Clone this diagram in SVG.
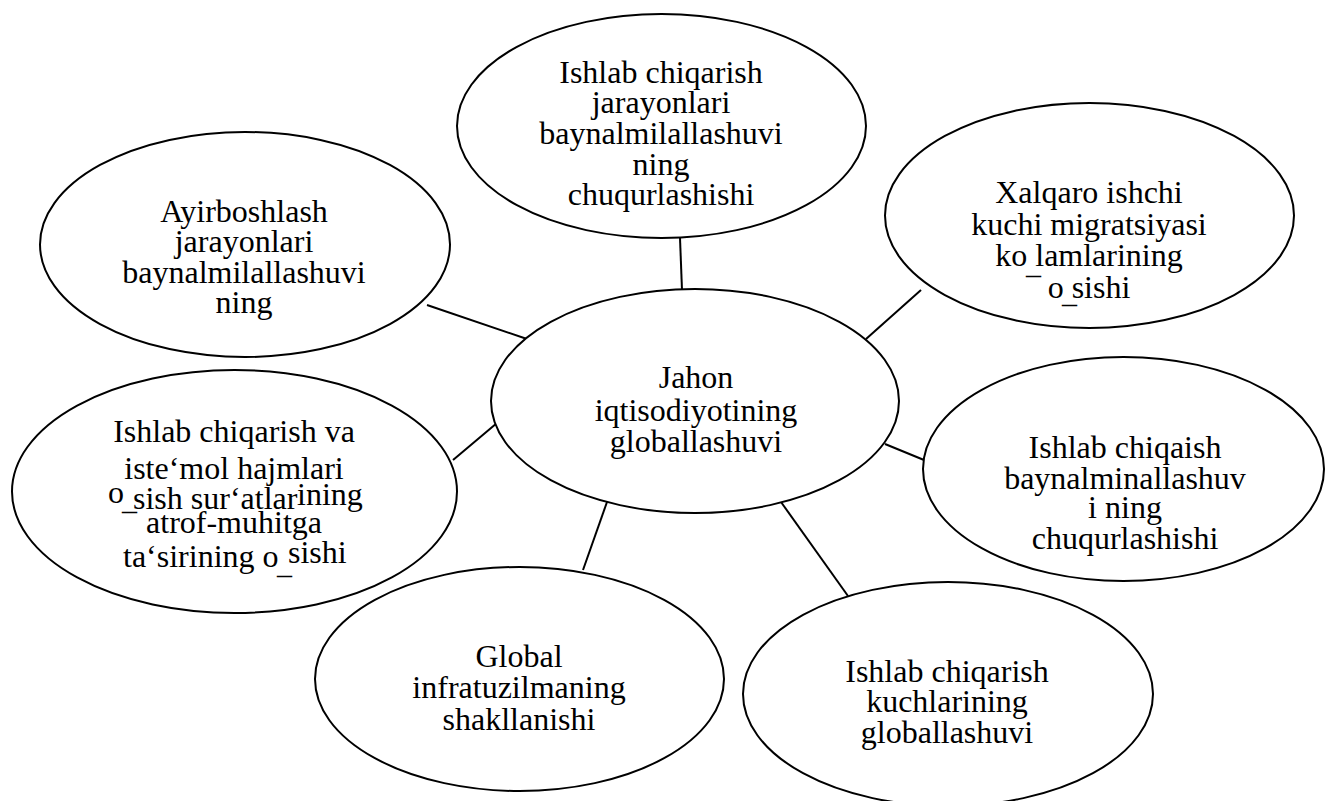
<svg xmlns="http://www.w3.org/2000/svg" width="1325" height="801" viewBox="0 0 1325 801">
<style>
.n{fill:#fff;stroke:#000;stroke-width:2}
.c line{stroke:#000;stroke-width:2}
text{font-family:"Liberation Serif","Times New Roman",serif;font-size:32px;fill:#000;text-anchor:middle}
.s{text-anchor:start}
.u{font-size:30px;text-anchor:start}
</style>
<rect width="1325" height="801" fill="#fff"/>
<g id="connectors" class="c">
<line x1="680" y1="238" x2="682" y2="290"/>
<line x1="427" y1="305" x2="527" y2="339"/>
<line x1="921" y1="290" x2="866" y2="339"/>
<line x1="453" y1="460" x2="497" y2="423"/>
<line x1="885" y1="444" x2="924" y2="460"/>
<line x1="607" y1="502" x2="583" y2="570"/>
<line x1="781" y1="502" x2="848" y2="596"/>
</g>
<g id="n-top">
<ellipse class="n" cx="661.5" cy="126" rx="204.5" ry="112"/>
<text><tspan x="661" y="83">Ishlab chiqarish</tspan><tspan x="661" y="113">jarayonlari</tspan><tspan x="661" y="144">baynalmilallashuvi</tspan><tspan x="661" y="175">ning</tspan><tspan x="661" y="205">chuqurlashishi</tspan></text>
</g>
<g id="n-ayirboshlash">
<ellipse class="n" cx="245" cy="244.5" rx="205" ry="112.5"/>
<text><tspan x="244" y="222">Ayirboshlash</tspan><tspan x="244" y="252">jarayonlari</tspan><tspan x="244" y="283">baynalmilallashuvi</tspan><tspan x="244" y="313">ning</tspan></text>
</g>
<g id="n-xalqaro">
<ellipse class="n" cx="1089.5" cy="215.5" rx="204.5" ry="112.5"/>
<text><tspan x="1089" y="203">Xalqaro ishchi</tspan><tspan x="1089" y="235">kuchi migratsiyasi</tspan><tspan x="1089" y="266">ko lamlarining</tspan><tspan class="u" x="1026" y="274">_</tspan><tspan x="1089" y="298">o sishi</tspan><tspan class="u" x="1062" y="303">_</tspan></text>
</g>
<g id="n-center">
<ellipse class="n" cx="695" cy="401" rx="204" ry="112"/>
<text><tspan x="696" y="388">Jahon</tspan><tspan x="696" y="421">iqtisodiyotining</tspan><tspan x="696" y="452">globallashuvi</tspan></text>
</g>
<g id="n-leftmid">
<ellipse class="n" cx="234.5" cy="491.5" rx="222.5" ry="121.5"/>
<text><tspan x="234" y="442">Ishlab chiqarish va</tspan><tspan x="234" y="479">iste‘mol hajmlari</tspan><tspan class="s" x="108" y="503">o</tspan><tspan class="u" x="122" y="510">_</tspan><tspan class="s" x="133" y="509">sish sur‘atlar</tspan><tspan class="s" x="297" y="505">ining</tspan><tspan x="234" y="533">atrof-muhitga</tspan><tspan class="s" x="123" y="567">ta‘sirining o</tspan><tspan class="u" x="277" y="574">_</tspan><tspan class="s" x="288" y="563">sishi</tspan></text>
</g>
<g id="n-rightmid">
<ellipse class="n" cx="1123.5" cy="469" rx="200.5" ry="112"/>
<text><tspan x="1125" y="458">Ishlab chiqaish</tspan><tspan x="1125" y="489">baynalminallashuv</tspan><tspan x="1125" y="518">i ning</tspan><tspan x="1125" y="549">chuqurlashishi</tspan></text>
</g>
<g id="n-global">
<ellipse class="n" cx="519.5" cy="679" rx="204.5" ry="112"/>
<text><tspan x="519" y="667">Global</tspan><tspan x="519" y="698">infratuzilmaning</tspan><tspan x="519" y="730">shakllanishi</tspan></text>
</g>
<g id="n-bottomright">
<ellipse class="n" cx="948" cy="694" rx="205" ry="112"/>
<text><tspan x="947" y="682">Ishlab chiqarish</tspan><tspan x="947" y="712">kuchlarining</tspan><tspan x="947" y="743">globallashuvi</tspan></text>
</g>
</svg>
